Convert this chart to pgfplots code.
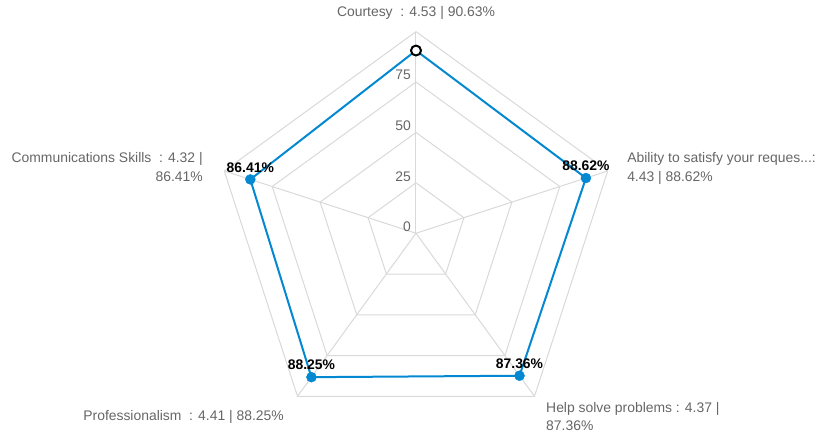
\documentclass[border=0pt]{standalone}
\usepackage{fontspec}
\setmainfont{Liberation Sans}
\usepackage{pgfplots}
\pgfplotsset{compat=1.18}
\definecolor{gridc}{RGB}{217,217,217}
\definecolor{txtc}{RGB}{102,102,102}
\definecolor{serc}{RGB}{3,136,209}
\begin{document}
\begin{tikzpicture}
\begin{axis}[
  name=ax,
  hide axis,
  x=2.016bp, y=2.016bp,
  xmin=-206.35, xmax=200.9, ymin=-100.5, ymax=115.7,
  clip=false,
  data cs=polar,
  every axis plot/.append style={line join=round},
]
% grid rings
\addplot[gridc, line width=1bp, no markers] coordinates {(90,25)(18,25)(-54,25)(-126,25)(162,25)(90,25)};
\addplot[gridc, line width=1bp, no markers] coordinates {(90,50)(18,50)(-54,50)(-126,50)(162,50)(90,50)};
\addplot[gridc, line width=1bp, no markers] coordinates {(90,75)(18,75)(-54,75)(-126,75)(162,75)(90,75)};
\addplot[gridc, line width=1bp, no markers] coordinates {(90,100)(18,100)(-54,100)(-126,100)(162,100)(90,100)};
% spokes
\addplot[gridc, line width=1bp, no markers] coordinates {(90,0)(90,100)};
\addplot[gridc, line width=1bp, no markers] coordinates {(18,0)(18,100)};
\addplot[gridc, line width=1bp, no markers] coordinates {(-54,0)(-54,100)};
\addplot[gridc, line width=1bp, no markers] coordinates {(-126,0)(-126,100)};
\addplot[gridc, line width=1bp, no markers] coordinates {(162,0)(162,100)};
% series line
\addplot[serc, line width=2bp, no markers] coordinates {(90,90.63)(18,88.62)(-54,87.36)(-126,88.25)(162,86.41)(90,90.63)};
% series markers with labels
\addplot[only marks, mark=*, mark size=5bp, mark options={fill=serc, draw=serc},
  point meta=explicit symbolic,
  nodes near coords,
  every node near coord/.style={anchor=center, yshift=12bp, font=\fontsize{13.9bp}{16bp}\selectfont\bfseries, text=black},
] coordinates {(18,88.62)[88.62\%] (-54,87.36)[87.36\%] (-126,88.25)[88.25\%] (162,86.41)[86.41\%]};
% courtesy point (highlighted)
\addplot[only marks, mark=*, mark size=5bp, mark options={fill=white, draw=black, line width=2bp}] coordinates {(90,90.63)};
% tick labels
\begin{scope}[every node/.style={font=\fontsize{13.9bp}{16bp}\selectfont, text=txtc, inner sep=0pt}]
\node[anchor=east] at (axis cs:-2.5,78.5) {75};
\node[anchor=east] at (axis cs:-2.5,53.4) {50};
\node[anchor=east] at (axis cs:-2.5,28.1) {25};
\node[anchor=east] at (axis cs:-2.5,3.0) {0};
% axis labels
\node[anchor=center] at (axis cs:0,109.3) {Courtesy\ \ : 4.53 | 90.63\%};
\node[anchor=west, align=left, font=\fontsize{13.9bp}{18.4bp}\selectfont] at (axis cs:104.7,32.1) {Ability to satisfy your reques...:\\4.43 | 88.62\%};
\node[anchor=east, align=right, font=\fontsize{13.9bp}{18.4bp}\selectfont] at (axis cs:-105.7,32.9) {Communications Skills\ \ : 4.32 |\\86.41\%};
\node[anchor=east] at (axis cs:-65.5,-91.0) {Professionalism\ \ : 4.41 | 88.25\%};
\node[anchor=west, align=left, font=\fontsize{13.9bp}{18.4bp}\selectfont] at (axis cs:64.5,-91.0) {Help solve problems : 4.37 |\\87.36\%};
\end{scope}
\end{axis}
\pgfresetboundingbox
\path[use as bounding box] (ax.south west) rectangle (ax.north east);
\end{tikzpicture}
\end{document}
